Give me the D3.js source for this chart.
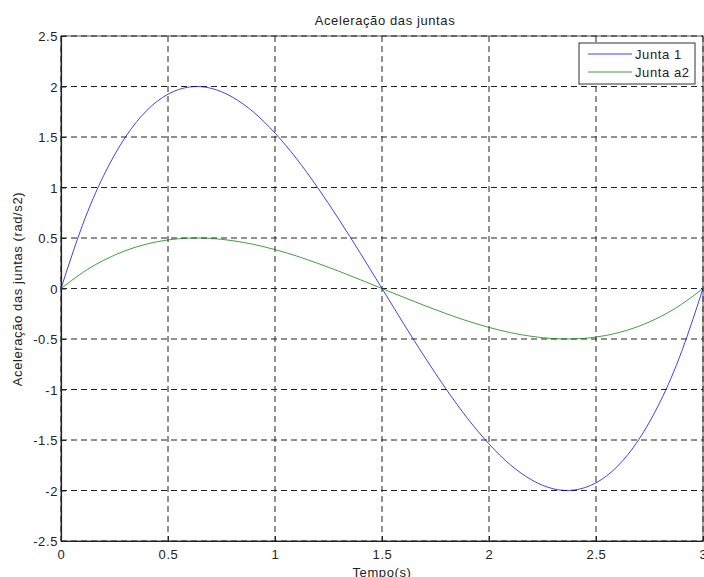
<!DOCTYPE html>
<html>
<head>
<meta charset="utf-8">
<script src="https://cdn.jsdelivr.net/npm/d3@7"></script>
<style>
  body { margin: 0; background: #fff; }
  svg { font-family: "Liberation Sans", Arial, sans-serif; }
  svg text { letter-spacing: 0.6px; }
</style>
</head>
<body>
<div id="chart"></div>
<script>
//------------------------DATA------------------------//
const tempo = [0, 0.1, 0.2, 0.3, 0.4, 0.5, 0.6, 0.7, 0.8, 0.9, 1.0, 1.1, 1.2, 1.3, 1.4, 1.5,
               1.6, 1.7, 1.8, 1.9, 2.0, 2.1, 2.2, 2.3, 2.4, 2.5, 2.6, 2.7, 2.8, 2.9, 3.0];
const junta1 = [0, 0.625, 1.121, 1.496, 1.761, 1.924, 1.995, 1.983, 1.896, 1.746, 1.539, 1.287, 0.997, 0.680, 0.345, 0,
                -0.345, -0.680, -0.997, -1.287, -1.539, -1.746, -1.896, -1.983, -1.995, -1.924, -1.761, -1.496, -1.121, -0.625, 0];
const juntaA2 = [0, 0.156, 0.280, 0.374, 0.440, 0.481, 0.499, 0.496, 0.474, 0.437, 0.385, 0.322, 0.249, 0.170, 0.086, 0,
                 -0.086, -0.170, -0.249, -0.322, -0.385, -0.437, -0.474, -0.496, -0.499, -0.481, -0.440, -0.374, -0.280, -0.156, 0];
const xTicks = [0, 0.5, 1, 1.5, 2, 2.5, 3];
const yTicks = [-2.5, -2, -1.5, -1, -0.5, 0, 0.5, 1, 1.5, 2, 2.5];
const seriesNames = ["Junta 1", "Junta a2"];
const seriesColors = ["#0000ff", "#008000"];

//------------------------SVG------------------------//
const width = 704, height = 577;
const pLeft = 61, pRight = 703, pTop = 36, pBottom = 541;

const svg = d3.select("#chart").append("svg")
  .attr("width", width)
  .attr("height", height);

const x = d3.scaleLinear().domain([0, 3]).range([pLeft, pRight]);
const y = d3.scaleLinear().domain([-2.5, 2.5]).range([pBottom, pTop]);

// box top/right
svg.append("rect")
  .attr("x", pLeft).attr("y", pTop)
  .attr("width", pRight - pLeft).attr("height", pBottom - pTop)
  .style("fill", "none")
  .style("stroke", "#555")
  .style("stroke-width", 1);

// grid
svg.append("g")
  .selectAll("line")
  .data(xTicks)
  .enter().append("line")
  .attr("x1", d => x(d)).attr("x2", d => x(d))
  .attr("y1", pTop).attr("y2", pBottom)
  .style("stroke", "#222")
  .style("stroke-width", 1)
  .style("stroke-dasharray", "6,4");

svg.append("g")
  .selectAll("line")
  .data(yTicks)
  .enter().append("line")
  .attr("x1", pLeft).attr("x2", pRight)
  .attr("y1", d => y(d)).attr("y2", d => y(d))
  .style("stroke", "#222")
  .style("stroke-width", 1)
  .style("stroke-dasharray", "6,4");

//------------------------AXES------------------------//
const fmt = d => String(d); // hyphen minus like the original

const xAxis = svg.append("g")
  .attr("transform", "translate(0," + pBottom + ")")
  .call(d3.axisBottom(x).tickValues(xTicks).tickSizeInner(-5).tickSizeOuter(0).tickPadding(9)
    .tickFormat(fmt));

const yAxis = svg.append("g")
  .attr("transform", "translate(" + pLeft + ",0)")
  .call(d3.axisLeft(y).tickValues(yTicks).tickSizeInner(-5).tickSizeOuter(0).tickPadding(3)
    .tickFormat(fmt));

[xAxis, yAxis].forEach(function(a) {
  a.select(".domain").style("stroke", "#222").style("stroke-width", 1.2);
  a.selectAll(".tick line").style("stroke", "#222");
  a.selectAll(".tick text")
    .style("font-family", "'Liberation Sans', Arial, sans-serif")
    .style("font-size", "13px")
    .style("fill", "#222");
});
yAxis.selectAll(".tick text").attr("dy", "0.35em");

//------------------------LINES------------------------//
const line = d3.line()
  .x(d => x(d[0]))
  .y(d => y(d[1]))
  .curve(d3.curveNatural);

[junta1, juntaA2].forEach(function(vals, i) {
  svg.append("path")
    .datum(tempo.map((t, j) => [t, vals[j]]))
    .attr("d", line)
    .style("fill", "none")
    .style("stroke", seriesColors[i])
    .style("stroke-width", 1)
    .style("opacity", 0.75);
});

//------------------------TEXT------------------------//
svg.append("text")
  .attr("x", 385).attr("y", 25)
  .attr("text-anchor", "middle")
  .style("font-size", "13px").style("fill", "#222")
  .text("Aceleração das juntas");

svg.append("text")
  .attr("x", 382).attr("y", 577)
  .attr("text-anchor", "middle")
  .style("font-size", "13px").style("fill", "#222")
  .text("Tempo(s)");

svg.append("text")
  .attr("transform", "translate(22," + 289 + ") rotate(-90)")
  .attr("text-anchor", "middle")
  .style("font-size", "13px").style("fill", "#222")
  .text("Aceleração das juntas (rad/s2)");

//------------------------LEGEND------------------------//
const legend = svg.append("g");
legend.append("rect")
  .attr("x", 579).attr("y", 43)
  .attr("width", 116).attr("height", 41)
  .style("fill", "#fff")
  .style("stroke", "#333")
  .style("stroke-width", 1);

seriesNames.forEach(function(name, i) {
  const ly = 54 + i * 18;
  legend.append("line")
    .attr("x1", 588).attr("x2", 632)
    .attr("y1", ly).attr("y2", ly)
    .style("stroke", seriesColors[i])
    .style("opacity", 0.75);
  legend.append("text")
    .attr("x", 635).attr("y", ly)
    .attr("dy", "0.35em")
    .style("font-size", "13px").style("fill", "#222")
    .text(name);
});
</script>
</body>
</html>
